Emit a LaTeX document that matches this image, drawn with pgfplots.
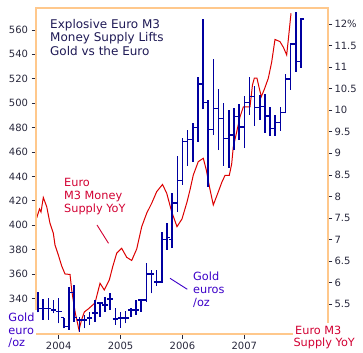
\documentclass[border=0pt]{standalone}
\usepackage{pgfplots}
\pgfplotsset{compat=1.18}
\usepackage{pgfplotstable}
\usepackage{fontspec}
\setmainfont{DejaVu Sans}
\definecolor{framec}{RGB}{255,200,140}
\definecolor{goldc}{RGB}{0,0,160}
\definecolor{m3c}{RGB}{220,0,0}
\definecolor{titlec}{RGB}{30,25,85}
\definecolor{annred}{RGB}{210,0,50}
\definecolor{annblue}{RGB}{60,0,200}
\definecolor{tickc}{RGB}{40,40,60}

\pgfdeclareplotmark{otick}{\pgfpathmoveto{\pgfqpoint{-2.8bp}{0pt}}\pgfpathlineto{\pgfqpoint{0pt}{0pt}}\pgfusepathqstroke}
\pgfdeclareplotmark{ctick}{\pgfpathmoveto{\pgfqpoint{0pt}{0pt}}\pgfpathlineto{\pgfqpoint{2.8bp}{0pt}}\pgfusepathqstroke}

\pgfplotstableread{
x H L O C
2003.667 345.5 328.6 331.9 331.9
2003.750 339.5 322.3 331.9 331.9
2003.833 340.6 322.3 331.9 331.9
2003.917 338.7 327.8 330.5 330.5
2004.000 340.1 319.6 329.1 329.1
2004.083 324.2 315.5 324.0 316.8
2004.167 349.6 314.1 316.8 345.0
2004.250 351.0 320.7 345.0 324.2
2004.333 325.0 312.7 322.3 322.3
2004.417 326.4 315.5 322.3 322.3
2004.500 329.1 318.2 323.9 323.9
2004.583 338.7 320.9 328.0 328.0
2004.667 337.3 325.0 336.2 336.2
2004.750 341.4 329.1 334.6 334.6
2004.833 344.2 330.5 339.5 339.5
2004.917 331.9 318.2 323.1 323.1
2005.000 329.1 316.0 323.9 323.9
2005.083 329.9 319.6 323.9 323.9
2005.167 331.9 325.0 330.5 330.5
2005.250 338.7 326.4 330.5 330.5
2005.333 338.7 329.1 338.7 338.7
2005.417 368.8 337.3 338.7 360.0
2005.500 363.3 344.2 360.0 360.0
2005.583 363.3 350.2 353.4 353.4
2005.667 394.7 352.4 353.4 387.9
2005.750 401.6 379.7 387.9 390.0
2005.833 426.1 381.1 387.9 418.2
2005.917 456.7 411.0 418.2 436.5
2006.000 471.2 433.0 436.5 468.4
2006.083 478.0 448.5 468.4 470.4
2006.167 484.0 451.8 470.4 480.2
2006.250 521.7 468.4 480.2 515.7
2006.333 568.8 495.0 515.7 500.4
2006.417 502.6 431.5 500.4 478.6
2006.500 536.0 473.9 478.6 495.8
2006.583 511.4 461.6 495.8 487.6
2006.667 499.9 448.5 487.6 471.2
2006.750 494.4 446.9 471.2 473.9
2006.833 496.1 461.6 473.9 488.7
2006.917 499.3 469.8 488.7 480.5
2007.000 505.9 463.2 480.5 500.2
2007.083 521.5 490.3 500.2 505.1
2007.167 514.1 481.3 505.1 496.1
2007.250 506.7 486.2 496.1 496.9
2007.333 507.5 475.6 496.9 489.5
2007.417 496.9 473.1 489.5 478.9
2007.500 490.3 473.1 478.9 483.8
2007.583 496.9 477.2 483.8 492.0
2007.667 523.9 491.7 492.0 519.8
2007.750 549.1 510.8 519.8 548.5
2007.833 575.0 525.8 548.5 533.8
2007.917 569.6 529.1 533.8 569.0
}\gold

\pgfplotstableread{
x M
2003.644 7.501
2003.690 7.710
2003.714 7.640
2003.751 7.976
2003.806 7.763
2003.859 7.378
2003.913 7.146
2003.940 6.875
2003.994 6.643
2004.048 6.388
2004.102 6.202
2004.183 6.191
2004.210 5.831
2004.239 5.553
2004.268 5.298
2004.328 4.903
2004.369 5.135
2004.414 5.321
2004.478 5.391
2004.587 5.530
2004.668 5.987
2004.737 5.831
2004.818 6.063
2004.873 6.371
2004.937 6.682
2005.018 6.798
2005.099 6.589
2005.180 6.515
2005.261 6.782
2005.342 7.299
2005.422 7.610
2005.503 7.842
2005.584 8.111
2005.678 8.278
2005.746 8.074
2005.826 7.647
2005.912 7.299
2005.993 7.478
2006.074 7.872
2006.122 8.150
2006.176 8.498
2006.256 8.807
2006.337 8.885
2006.386 8.614
2006.437 8.220
2006.499 7.802
2006.567 8.058
2006.639 8.336
2006.688 8.487
2006.757 8.487
2006.796 8.753
2006.822 9.147
2006.877 9.495
2006.930 9.843
2006.984 10.075
2007.092 10.075
2007.132 10.585
2007.162 10.741
2007.205 10.741
2007.242 10.509
2007.275 10.314
2007.326 10.493
2007.388 10.741
2007.443 11.119
2007.496 11.641
2007.577 11.590
2007.633 11.455
2007.685 11.281
2007.711 11.629
2007.755 12.248
}\mthree

\begin{document}
\begin{tikzpicture}
\useasboundingbox (-36bp,-19bp) rectangle (327bp,334bp);
% M3 axis (right)
\begin{axis}[
  at={(0,0)}, anchor=south west,
  scale only axis, width=292bp, height=326bp,
  xmin=2003.633, xmax=2008.353, ymin=4.81, ymax=12.37,
  axis x line=none, axis y line*=right,
  axis line style={draw=none},
  ytick={5.5,6,6.5,7,7.5,8,8.5,9,9.5,10,10.5,11,11.5,12},
  yticklabels={5.5,6,6.5,7,7.5,8,8.5,9,9.5,10,10.5,11,11.5,12\%},
  tick align=outside, major tick length=4.5bp,
  tick style={tickc, line width=0.7bp},
  yticklabel style={font=\fontsize{10bp}{12bp}\selectfont, text=tickc, xshift=-1.5bp},
]
\addplot[m3c, line width=1bp, mark=none] table[x=x,y=M]{\mthree};
\end{axis}
% Gold axis (left)
\begin{axis}[
  at={(0,0)}, anchor=south west,
  scale only axis, width=292bp, height=326bp,
  xmin=2003.633, xmax=2008.353, ymin=310.8, ymax=578,
  axis x line*=bottom, axis y line*=left,
  axis line style={draw=none},
  xtick={2004,2005,2006,2007}, xticklabels={2004,2005,2006,2007},
  ytick={340,360,380,400,420,440,460,480,500,520,540,560},
  yticklabels={340,360,380,400,420,440,460,480,500,520,540,560},
  tick align=outside, major tick length=4.5bp,
  tick style={tickc, line width=0.7bp},
  yticklabel style={font=\fontsize{10bp}{12bp}\selectfont, text=tickc},
  xticklabel style={font=\fontsize{10bp}{12bp}\selectfont, text=tickc},
]
\addplot[draw=none, mark=none,
  error bars/.cd, y dir=plus, y explicit, error mark=none,
  error bar style={draw=goldc, line width=1.5bp}]
  table[x=x, y=L, y error expr=\thisrow{H}-\thisrow{L}]{\gold};
\addplot[only marks, mark=otick, goldc, mark options={line width=1.1bp}] table[x=x,y=O]{\gold};
\addplot[only marks, mark=ctick, goldc, mark options={line width=1.1bp}] table[x=x,y=C]{\gold};
\end{axis}
% frame
\draw[framec, line width=1.2bp] (0bp,24bp) -- (0bp,326bp) -- (292bp,326bp) -- (292bp,11bp);
\draw[framec, line width=1.2bp] (0bp,0bp) -- (257bp,0bp);
% texts
\begin{scope}[every node/.style={inner sep=0pt, anchor=base west}]
\node[titlec, font=\fontsize{12bp}{14bp}\selectfont] at (14bp,305.7bp) {Explosive Euro M3};
\node[titlec, font=\fontsize{12bp}{14bp}\selectfont] at (14bp,292bp) {Money Supply Lifts};
\node[titlec, font=\fontsize{12bp}{14bp}\selectfont] at (14bp,278.3bp) {Gold vs the Euro};
\node[annred, font=\fontsize{11.3bp}{13bp}\selectfont] at (28bp,147.3bp) {Euro};
\node[annred, font=\fontsize{11.3bp}{13bp}\selectfont] at (28bp,134.3bp) {M3 Money};
\node[annred, font=\fontsize{11.3bp}{13bp}\selectfont] at (28bp,121.3bp) {Supply YoY};
\node[annblue, font=\fontsize{11.3bp}{13bp}\selectfont] at (157bp,53.3bp) {Gold};
\node[annblue, font=\fontsize{11.3bp}{13bp}\selectfont] at (157bp,40.7bp) {euros};
\node[annblue, font=\fontsize{11.3bp}{13bp}\selectfont] at (157bp,28bp) {/oz};
\node[annblue, font=\fontsize{11.3bp}{13bp}\selectfont] at (-27.7bp,12.3bp) {Gold};
\node[annblue, font=\fontsize{11.3bp}{13bp}\selectfont] at (-27.7bp,0bp) {euro};
\node[annblue, font=\fontsize{11.3bp}{13bp}\selectfont] at (-27.7bp,-12.7bp) {/oz};
\node[annred, font=\fontsize{11.3bp}{13bp}\selectfont] at (259bp,0bp) {Euro M3};
\node[annred, font=\fontsize{11.3bp}{13bp}\selectfont] at (257.3bp,-12.7bp) {Supply YoY};
\end{scope}
\draw[annred, line width=0.9bp] (61bp,109bp) -- (72.5bp,90.7bp);
\draw[annblue, line width=0.9bp] (134bp,55.7bp) -- (151.3bp,44.7bp);
\end{tikzpicture}
\end{document}
